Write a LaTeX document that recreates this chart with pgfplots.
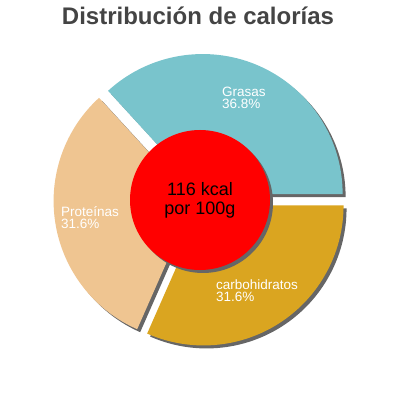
\documentclass[border=0pt]{standalone}
\usepackage{pgfplots}
\pgfplotsset{compat=1.18}
\usepackage{pgfplotstable}
\usepackage{fontspec}
\setmainfont{Liberation Sans}

\definecolor{grasas}{HTML}{79C4CC}
\definecolor{proteinas}{HTML}{EFC591}
\definecolor{carbo}{HTML}{DAA520}
\definecolor{sombra}{HTML}{666666}
\definecolor{titulo}{HTML}{444444}

% porcentaje de calorias por nutriente
\pgfplotstableread{
nombre valor
Grasas 36.8
Proteinas 31.6
carbohidratos 31.6
}\calorias

% #1 angulo inicial, #2 angulo final, #3 color, #4 desplazamiento de la sombra
\newcommand\rebanada[4]{%
  \pgfmathsetmacro\mitad{(#1+#2)/2}%
  \pgfmathsetmacro\cx{200+6.5*cos(\mitad)+#4}%
  \pgfmathsetmacro\cy{200+6.5*sin(\mitad)-#4}%
  \fill[#3] (axis cs:\cx,\cy) -- ++(#1:140pt)
    arc[start angle=#1, end angle=#2, radius=140pt] -- cycle;%
}

\begin{document}
\begin{tikzpicture}
\begin{axis}[
    x=1pt, y=1pt,
    xmin=0, xmax=400, ymin=0, ymax=400,
    hide axis, clip=false,
]
\pgfplotsextra{
  \path (axis cs:0,0) rectangle (axis cs:400,400);
  \pgfplotstablegetelem{0}{valor}\of\calorias \let\va\pgfplotsretval
  \pgfplotstablegetelem{1}{valor}\of\calorias \let\vb\pgfplotsretval
  \pgfplotstablegetelem{2}{valor}\of\calorias \let\vc\pgfplotsretval
  \pgfmathsetmacro\aa{\va*3.6}
  \pgfmathsetmacro\ab{\aa+\vb*3.6}
  \pgfmathsetmacro\ac{\ab+\vc*3.6}
  % sombras
  \rebanada{0}{\aa}{sombra}{3}
  \rebanada{\aa}{\ab}{sombra}{3}
  \rebanada{\ab}{\ac}{sombra}{3}
  % rebanadas
  \rebanada{0}{\aa}{grasas}{0}
  \rebanada{\aa}{\ab}{proteinas}{0}
  \rebanada{\ab}{\ac}{carbo}{0}
  % circulo central
  \fill[sombra] (axis cs:203,197) circle[radius=70pt];
  \fill[red] (axis cs:200,200) circle[radius=70pt];
}
\tikzset{etiqueta/.style={anchor=west, align=left, inner sep=0pt, text=white,
  font=\fontsize{13.5}{12}\selectfont}}
\node[etiqueta] at (axis cs:222,302) {Grasas\\36.8\%};
\node[etiqueta] at (axis cs:61,182) {Proteínas\\31.6\%};
\node[etiqueta] at (axis cs:216,109) {carbohidratos\\31.6\%};
\node[align=center, inner sep=0pt,
  font=\fontsize{18}{19}\selectfont] at (axis cs:200,200) {116 kcal\\por 100g};
\node[anchor=base, inner sep=0pt, text=titulo,
  font=\bfseries\fontsize{24}{24}\selectfont] at (axis cs:198,375) {Distribución de calorías};
\end{axis}
\end{tikzpicture}
\end{document}
